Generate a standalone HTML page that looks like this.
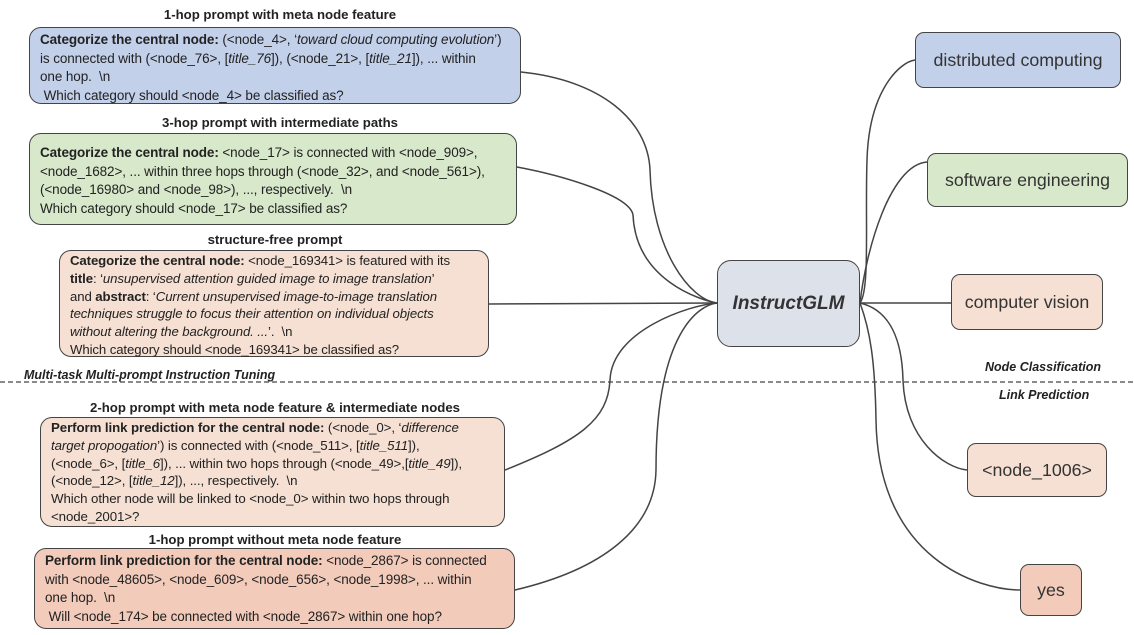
<!DOCTYPE html>
<html><head><meta charset="utf-8"><style>
body{margin:0;width:1134px;height:635px;background:#fff;position:relative;overflow:hidden;font-family:"Liberation Sans",sans-serif;color:#222}
.b{position:absolute;border:1.5px solid #444;border-radius:12px;box-sizing:border-box;font-size:13.5px;line-height:18.5px;padding:3px 10px;white-space:nowrap;letter-spacing:-0.1px}
.t{position:absolute;font-size:13.2px;font-weight:bold;white-space:nowrap;transform:translateX(-50%)}
.n{position:absolute;border:1.5px solid #444;border-radius:9px;box-sizing:border-box;display:flex;align-items:center;justify-content:center;font-size:17.8px;color:#333}
.l{position:absolute;font-size:12.5px;font-weight:bold;font-style:italic;white-space:nowrap;color:#222}
svg{position:absolute;left:0;top:0}
</style></head><body>
<svg width="1134" height="635">
<g fill="none" stroke="#444" stroke-width="1.5">
<path d="M521,72 C600,80 648,120 650,170 C652,250 690,300 717,303"/>
<path d="M517,167 C560,175 630,195 633,215 C636,280 700,300 717,303"/>
<path d="M489,304 L717,303"/>
<path d="M505,470 C580,440 608,420 610,380 C612,330 690,305 717,303"/>
<path d="M515,590 C600,570 655,530 656,470 C656,330 700,305 717,303"/>
<path d="M860,303 C870,290 865,220 867,160 C869,90 900,62 915,60"/>
<path d="M860,303 C866,250 890,165 927,162"/>
<path d="M860,303 L951,303"/>
<path d="M860,303 C890,310 902,340 903,380 C905,440 945,468 967,470"/>
<path d="M860,303 C870,330 875,360 876,420 C878,560 980,590 1020,590"/>
</g>
<line x1="0" y1="382" x2="1134" y2="382" stroke="#444" stroke-width="1.3" stroke-dasharray="5,3"/>
</svg>
<div class="t" style="left:280px;top:7px">1-hop prompt with meta node feature</div>
<div class="b" style="left:29px;top:27px;width:492px;height:77px;background:#c3d0ea"><b>Categorize the central node:</b> (&lt;node_4&gt;, ‘<i>toward cloud computing evolution</i>’)<br>is connected with (&lt;node_76&gt;, [<i>title_76</i>]), (&lt;node_21&gt;, [<i>title_21</i>]), ... within<br>one hop.&nbsp; \n<br>&nbsp;Which category should &lt;node_4&gt; be classified as?</div>
<div class="t" style="left:280px;top:115px">3-hop prompt with intermediate paths</div>
<div class="b" style="left:29px;top:133px;width:488px;height:92px;background:#d8e8cb;padding-top:10px"><b>Categorize the central node:</b> &lt;node_17&gt; is connected with &lt;node_909&gt;,<br>&lt;node_1682&gt;, ... within three hops through (&lt;node_32&gt;, and &lt;node_561&gt;),<br>(&lt;node_16980&gt; and &lt;node_98&gt;), ..., respectively.&nbsp; \n<br>Which category should &lt;node_17&gt; be classified as?</div>
<div class="t" style="left:275px;top:232px">structure-free prompt</div>
<div class="b" style="left:59px;top:250px;width:430px;height:107px;background:#f5e0d3;padding-top:1px;line-height:17.8px;font-size:13.2px"><b>Categorize the central node:</b> &lt;node_169341&gt; is featured with its<br><b>title</b>: ‘<i>unsupervised attention guided image to image translation</i>’<br>and <b>abstract</b>: ‘<i>Current unsupervised image-to-image translation</i><br><i>techniques struggle to focus their attention on individual objects</i><br><i>without altering the background. ...</i>’.&nbsp; \n<br>Which category should &lt;node_169341&gt; be classified as?</div>
<div class="l" style="left:24px;top:368px">Multi-task Multi-prompt Instruction Tuning</div>
<div class="l" style="left:985px;top:360px">Node Classification</div>
<div class="l" style="left:999px;top:388px">Link Prediction</div>
<div class="t" style="left:275px;top:400px">2-hop prompt with meta node feature &amp; intermediate nodes</div>
<div class="b" style="left:40px;top:417px;width:465px;height:110px;background:#f5e0d3;padding-top:1px;line-height:17.8px;font-size:13.3px"><b>Perform link prediction for the central node:</b> (&lt;node_0&gt;, ‘<i>difference</i><br><i>target propogation</i>’) is connected with (&lt;node_511&gt;, [<i>title_511</i>]),<br>(&lt;node_6&gt;, [<i>title_6</i>]), ... within two hops through (&lt;node_49&gt;,[<i>title_49</i>]),<br>(&lt;node_12&gt;, [<i>title_12</i>]), ..., respectively.&nbsp; \n<br>Which other node will be linked to &lt;node_0&gt; within two hops through<br>&lt;node_2001&gt;?</div>
<div class="t" style="left:275px;top:532px">1-hop prompt without meta node feature</div>
<div class="b" style="left:34px;top:548px;width:481px;height:81px;background:#f2cbbb"><b>Perform link prediction for the central node:</b> &lt;node_2867&gt; is connected<br>with &lt;node_48605&gt;, &lt;node_609&gt;, &lt;node_656&gt;, &lt;node_1998&gt;, ... within<br>one hop.&nbsp; \n<br>&nbsp;Will &lt;node_174&gt; be connected with &lt;node_2867&gt; within one hop?</div>
<div class="n" style="left:717px;top:260px;width:143px;height:87px;background:#dde1e9;border-radius:14px;font-weight:bold;font-style:italic;font-size:19px">InstructGLM</div>
<div class="n" style="left:915px;top:32px;width:206px;height:56px;background:#c3d0ea">distributed computing</div>
<div class="n" style="left:927px;top:153px;width:201px;height:54px;background:#d8e8cb">software engineering</div>
<div class="n" style="left:951px;top:274px;width:152px;height:56px;background:#f5e0d3">computer vision</div>
<div class="n" style="left:967px;top:443px;width:140px;height:54px;background:#f5e0d3">&lt;node_1006&gt;</div>
<div class="n" style="left:1020px;top:564px;width:62px;height:52px;background:#f2cbbb">yes</div>
</body></html>
